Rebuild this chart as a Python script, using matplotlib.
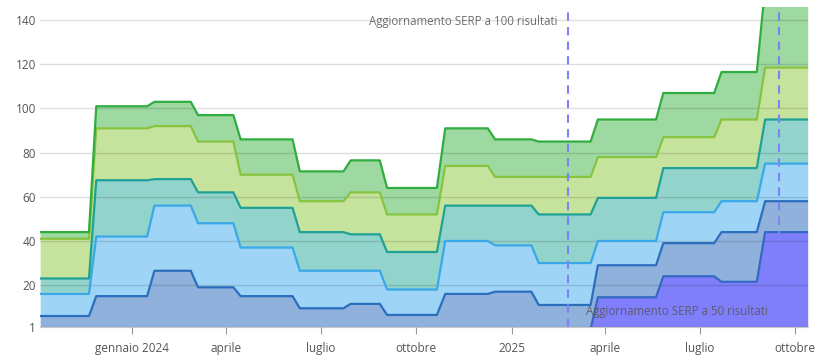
import numpy as np
import pandas as pd
import matplotlib
matplotlib.use("Agg")
import matplotlib.pyplot as plt

# each segment is flat between its start and end date; values ramp between segments
seg_start = ["2023-10-05", "2023-11-28", "2024-01-23", "2024-03-05", "2024-04-15",
             "2024-06-11", "2024-07-30", "2024-09-03", "2024-10-29", "2024-12-16",
             "2025-01-27", "2025-03-25", "2025-05-27", "2025-07-22", "2025-09-02"]
seg_end = ["2023-11-21", "2024-01-16", "2024-02-27", "2024-04-08", "2024-06-04",
           "2024-07-23", "2024-08-27", "2024-10-21", "2024-12-09", "2025-01-20",
           "2025-03-18", "2025-05-20", "2025-07-15", "2025-08-25", "2025-10-13"]

# own value of each band, bottom to top
purple = [0, 0, 0, 0, 0, 0, 0, 0, 0, 0, 0, 14.5, 24, 21.5, 44]
dark_blue = [6, 15, 26.5, 19, 15, 9.5, 11.5, 6.5, 16, 17, 11, 14.5, 15, 22.5, 14]
light_blue = [10, 27, 29.5, 29, 22, 17, 15, 11.5, 24, 21, 19, 11, 14, 14, 17]
teal = [7, 25.5, 12, 14, 18, 17.5, 16.5, 17, 16, 18, 22, 19.5, 20, 15, 20]
light_green = [18, 23.5, 24, 23, 15, 14, 19, 17, 18, 13, 17, 18.5, 14, 22, 23.5]
green = [3, 10, 11, 12, 16, 13.5, 14.5, 12, 17, 17, 16, 17, 20, 21.5, 36.5]

tick_dates = ["2024-01-01", "2024-04-01", "2024-07-01", "2024-10-01",
              "2025-01-01", "2025-04-01", "2025-07-01", "2025-10-01"]
tick_labels = ["gennaio 2024", "aprile", "luglio", "ottobre",
               "2025", "aprile", "luglio", "ottobre"]
y_ticks = [1, 20, 40, 60, 80, 100, 120, 140]

events = ["2025-02-24", "2025-09-15"]
event_labels = ["Aggiornamento SERP a 100 risultati", "Aggiornamento SERP a 50 risultati"]

series = [purple, dark_blue, light_blue, teal, light_green, green]
fills = ["#7f7ffb", "#90b1db", "#9ed4f5", "#92d3cb", "#c6e39d", "#9ed9a1"]
lines = ["#3468c2", "#2a6ebd", "#39a8e8", "#1fa196", "#86c43f", "#2fae3f"]

# interleave start/end so each segment is a flat run
x = pd.to_datetime([d for pair in zip(seg_start, seg_end) for d in pair])
vals = np.array([[v for v in s for _ in range(2)] for s in series], dtype=float)
cum = np.cumsum(vals, axis=0)

plt.rcParams["font.family"] = ["Open Sans", "DejaVu Sans"]
fig = plt.figure(figsize=(8.2, 3.63), dpi=100)
ax = fig.add_axes([0.049, 0.099, 0.936, 0.882])

base = np.zeros(len(x))
for i in range(len(series)):
    ax.fill_between(x, base, cum[i], color=fills[i], lw=0, zorder=1)
    base = cum[i]
for i in range(len(series)):
    ax.plot(x, cum[i], color=lines[i], lw=1.6, zorder=3, solid_joinstyle="round")

ax.set_ylim(1, 146)
ax.set_xlim(x[0], x[-1])
ax.set_yticks(y_ticks)
ax.yaxis.grid(True, color="#000000", alpha=0.13, lw=1, zorder=2)
ax.set_axisbelow(False)

ax.set_xticks(pd.to_datetime(tick_dates))
ax.set_xticklabels(tick_labels)
ax.tick_params(axis="x", length=5, color="#999999", labelsize=8.5, labelcolor="#555555", pad=6)
ax.tick_params(axis="y", length=0, labelsize=8.5, labelcolor="#555555", pad=3)
for s in ["top", "right", "left"]:
    ax.spines[s].set_visible(False)
ax.spines["bottom"].set_color("#c8c8c8")

for d, lab, yv in zip(events, event_labels, [139.5, 8]):
    xd = pd.Timestamp(d)
    ax.axvline(xd, color="#8080f8", lw=1.5, ls=(0, (4, 3)), zorder=4)
    ax.text(xd - pd.Timedelta(days=10), yv, lab, ha="right", va="center",
            fontsize=8.3, color="#555555", alpha=0.85, zorder=5)

fig.savefig("out.png", dpi=100)
